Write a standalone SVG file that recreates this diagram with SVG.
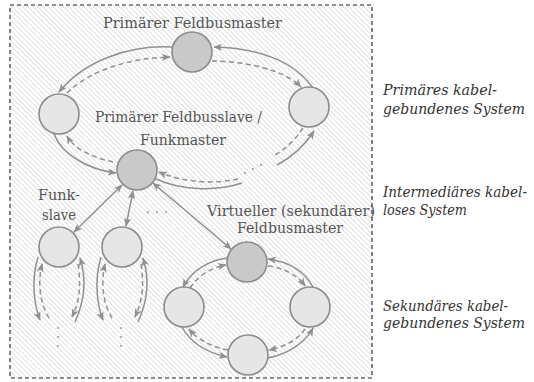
<svg xmlns="http://www.w3.org/2000/svg" width="534" height="382" viewBox="0 0 534 382">
<style>
.bg{fill:#fff}
.frame{fill:url(#hatch);stroke:#222;stroke-width:1.1;stroke-dasharray:4 3}
.nd{fill:#c9c9c9;stroke:#8c8c8c;stroke-width:1.6}
.nl{fill:#e6e6e7;stroke:#8c8c8c;stroke-width:1.6}
.c{fill:none;stroke:#909090;stroke-width:1.5}
.s{marker-end:url(#ah)}
.d{stroke-dasharray:5 3.5;marker-end:url(#ah)}
.dd{fill:none;stroke:#909090;stroke-width:1.5;stroke-dasharray:5 3.5}
.b{marker-start:url(#ah);marker-end:url(#ah)}
.dot{fill:#9a9a9a}
.lbl{font-size:14px;fill:#555}
.side{font-style:italic;font-size:14px;fill:#333}
</style>
<defs>
<pattern id="hatch" patternUnits="userSpaceOnUse" width="3.6" height="3.6" patternTransform="rotate(-45)">
<rect width="3.6" height="3.6" fill="#fff"/>
<line x1="0.4" y1="0" x2="0.4" y2="3.6" stroke="#d6d6d6" stroke-width="0.8"/>
</pattern>
<marker id="ah" viewBox="0 0 10 8" refX="9" refY="4" markerWidth="9" markerHeight="7.2" markerUnits="userSpaceOnUse" orient="auto-start-reverse">
<path d="M0,0 L10,4 L0,8 L2.5,4 z" fill="#909090"/>
</marker>
</defs>
<rect class="bg" width="534" height="382"/>
<rect class="frame" x="10" y="5" width="362" height="373"/>

<g id="connectors">
<path class="c s" d="M172,47 C130,45 85,60 59,92"/>
<path class="c d" d="M67,93 C90,70 130,58 170,57"/>
<path class="c s" d="M313,88 C295,62 260,48 214,47"/>
<path class="c d" d="M212,61 C245,61 285,70 301,87"/>
<path class="c s" d="M54,134 C62,155 90,170 116,173"/>
<path class="c d" d="M113,162 C95,158 75,150 67,136"/>
<path class="c" d="M156,179 C180,190 215,192 242,183"/>
<path class="c s" d="M277,165 C292,157 305,145 314,131"/>
<path class="dd" d="M303,128 C295,140 285,150 273,156"/>
<path class="c d" d="M238,179 C215,184 185,183 159,172"/>
<circle class="dot" cx="245" cy="173" r="1.1"/>
<circle class="dot" cx="253" cy="169" r="1.1"/>
<circle class="dot" cx="261" cy="165" r="1.1"/>
<path class="c b" d="M122,185 L74,232"/>
<path class="c b" d="M133,191 L126,226"/>
<path class="c b" d="M153,183 L231,249"/>
<circle class="dot" cx="148" cy="212" r="1"/>
<circle class="dot" cx="157" cy="212" r="1"/>
<circle class="dot" cx="166" cy="212" r="1"/>
<path class="c s" d="M38,257 C31,280 34,305 40,320"/>
<path class="c d" d="M49,318 C41,305 37,285 42,264"/>
<path class="c s" d="M75,322 C85,300 87,280 80,258"/>
<path class="c d" d="M78,264 C81,285 80,300 72,317"/>
<circle class="dot" cx="58" cy="328" r="1"/>
<circle class="dot" cx="58" cy="337" r="1"/>
<circle class="dot" cx="58" cy="346" r="1"/>
<path class="c s" d="M101,257 C94,280 97,305 103,320"/>
<path class="c d" d="M112,318 C104,305 100,285 105,264"/>
<path class="c s" d="M138,322 C148,300 150,280 143,258"/>
<path class="c d" d="M141,264 C144,285 143,300 135,317"/>
<circle class="dot" cx="121" cy="328" r="1"/>
<circle class="dot" cx="121" cy="337" r="1"/>
<circle class="dot" cx="121" cy="346" r="1"/>
<path class="c s" d="M227,258 C210,260 192,270 183,287"/>
<path class="c d" d="M190,288 C198,276 210,268 226,265"/>
<path class="c s" d="M313,287 C305,272 290,262 268,259"/>
<path class="c d" d="M268,266 C285,268 298,276 305,286"/>
<path class="c s" d="M182,327 C190,342 205,352 227,357"/>
<path class="c d" d="M228,350 C212,347 198,340 189,329"/>
<path class="c s" d="M268,358 C288,354 305,343 313,328"/>
<path class="c d" d="M305,329 C298,340 284,347 269,350"/>
</g>

<g id="n-primary-master"><circle class="nd" cx="192" cy="52" r="20"/></g>
<g id="n-primary-left"><circle class="nl" cx="59" cy="114" r="20"/></g>
<g id="n-primary-right"><circle class="nl" cx="309" cy="107" r="20"/></g>
<g id="n-funkmaster"><circle class="nd" cx="137" cy="170" r="20"/></g>
<g id="n-slave1"><circle class="nl" cx="59" cy="247" r="20"/></g>
<g id="n-slave2"><circle class="nl" cx="122" cy="247" r="20"/></g>
<g id="n-virtual-master"><circle class="nd" cx="247" cy="262" r="20"/></g>
<g id="n-sec-left"><circle class="nl" cx="184" cy="307" r="20"/></g>
<g id="n-sec-right"><circle class="nl" cx="310" cy="307" r="20"/></g>
<g id="n-sec-bottom"><circle class="nl" cx="248" cy="355" r="20"/></g>

<g id="labels" font-family="'DejaVu Serif', serif">
<text class="lbl" x="103" y="28" textLength="179" lengthAdjust="spacingAndGlyphs">Primärer Feldbusmaster</text>
<text class="lbl" x="95" y="122" textLength="167" lengthAdjust="spacingAndGlyphs">Primärer Feldbusslave /</text>
<text class="lbl" x="140" y="145" textLength="86" lengthAdjust="spacingAndGlyphs">Funkmaster</text>
<text class="lbl" x="38" y="200" textLength="42" lengthAdjust="spacingAndGlyphs">Funk-</text>
<text class="lbl" x="42" y="220" textLength="34" lengthAdjust="spacingAndGlyphs">slave</text>
<text class="lbl" x="207" y="216" textLength="168" lengthAdjust="spacingAndGlyphs">Virtueller (sekundärer)</text>
<text class="lbl" x="237" y="233" textLength="106" lengthAdjust="spacingAndGlyphs">Feldbusmaster</text>
</g>
<g id="side-labels" font-family="'DejaVu Serif', serif">
<text class="side" x="383" y="95" textLength="114" lengthAdjust="spacingAndGlyphs">Primäres kabel-</text>
<text class="side" x="383" y="114" textLength="142" lengthAdjust="spacingAndGlyphs">gebundenes System</text>
<text class="side" x="383" y="197" textLength="144" lengthAdjust="spacingAndGlyphs">Intermediäres kabel-</text>
<text class="side" x="383" y="215" textLength="84" lengthAdjust="spacingAndGlyphs">loses System</text>
<text class="side" x="383" y="311" textLength="125" lengthAdjust="spacingAndGlyphs">Sekundäres kabel-</text>
<text class="side" x="383" y="328" textLength="142" lengthAdjust="spacingAndGlyphs">gebundenes System</text>
</g>
</svg>
